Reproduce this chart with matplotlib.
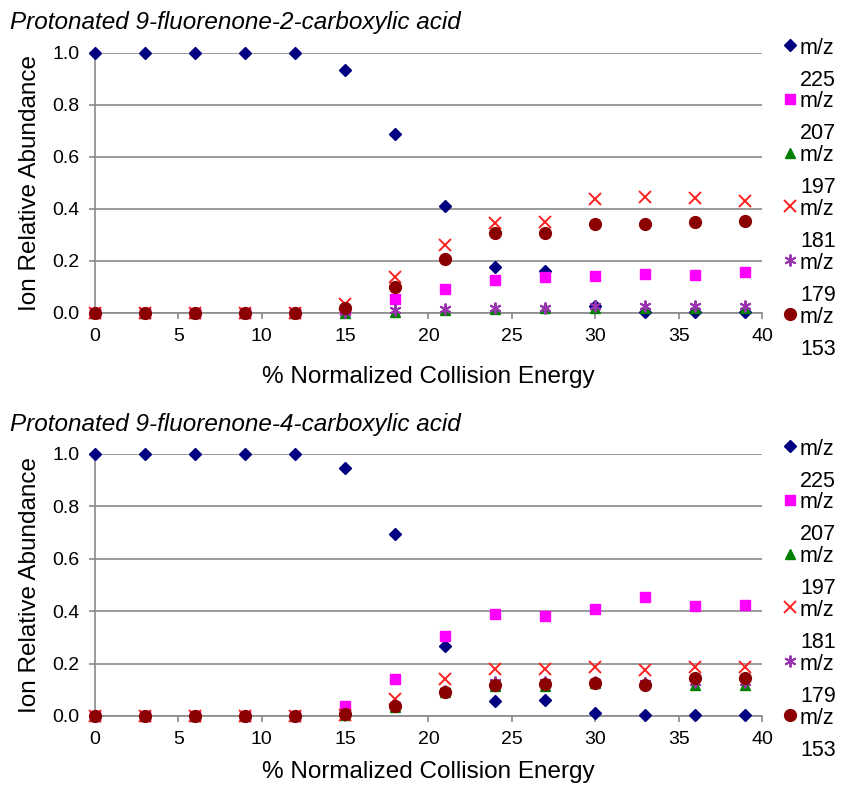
import matplotlib
matplotlib.use("Agg")
import matplotlib.pyplot as plt

plt.rcParams['font.family'] = ['Liberation Sans', 'DejaVu Sans']

energy = [0, 3, 6, 9, 12, 15, 18, 21, 24, 27, 30, 33, 36, 39]
ions = ["225", "207", "197", "181", "179", "153"]

# 9-fluorenone-2-carboxylic acid
top_225 = [1.0, 1.0, 1.0, 1.0, 1.0, 0.935, 0.69, 0.41, 0.177, 0.16, 0.025, 0.005, 0.005, 0.005]
top_207 = [0, 0, 0, 0, 0, 0.01, 0.054, 0.092, 0.127, 0.138, 0.142, 0.149, 0.148, 0.158]
top_197 = [0, 0, 0, 0, 0, 0.0, 0.005, 0.01, 0.015, 0.018, 0.02, 0.02, 0.02, 0.02]
top_181 = [0, 0, 0, 0, 0, 0.035, 0.14, 0.26, 0.345, 0.35, 0.437, 0.447, 0.443, 0.432]
top_179 = [0, 0, 0, 0, 0, 0.005, 0.01, 0.015, 0.02, 0.02, 0.025, 0.025, 0.025, 0.025]
top_153 = [0, 0, 0, 0, 0, 0.02, 0.10, 0.207, 0.307, 0.307, 0.342, 0.342, 0.35, 0.355]

# 9-fluorenone-4-carboxylic acid
bot_225 = [1.0, 1.0, 1.0, 1.0, 1.0, 0.945, 0.695, 0.268, 0.058, 0.06, 0.013, 0.004, 0.003, 0.003]
bot_207 = [0, 0, 0, 0, 0, 0.038, 0.14, 0.305, 0.388, 0.382, 0.41, 0.453, 0.421, 0.425]
bot_197 = [0, 0, 0, 0, 0, 0.004, 0.035, 0.09, 0.115, 0.115, 0.125, 0.13, 0.12, 0.12]
bot_181 = [0, 0, 0, 0, 0, 0.005, 0.065, 0.141, 0.18, 0.18, 0.188, 0.176, 0.186, 0.186]
bot_179 = [0, 0, 0, 0, 0, 0.006, 0.042, 0.095, 0.13, 0.13, 0.13, 0.125, 0.13, 0.13]
bot_153 = [0, 0, 0, 0, 0, 0.008, 0.038, 0.093, 0.118, 0.122, 0.127, 0.118, 0.144, 0.146]

styles = [
    dict(marker='D', color='#000080', ms=6.5, mec='#000080'),
    dict(marker='s', color='#FF00FF', ms=7.5, mec='#FF00FF'),
    dict(marker='^', color='#008000', ms=7.5, mec='#008000'),
    dict(marker='x', color='#FF2020', ms=8, mew=1.4),
    dict(marker=(6, 2, 0), color='#9933B0', ms=8.5, mew=1.4),
    dict(marker='o', color='#8B0000', ms=8.5, mec='#8B0000'),
]

fig = plt.figure(figsize=(8.43, 7.88), dpi=100)
ax_top = fig.add_axes([0.1127, 0.6028, 0.7912, 0.33])
ax_bot = fig.add_axes([0.1127, 0.0914, 0.7912, 0.3325])
# overlay in pixel units, for the hand-placed legends and titles
ov = fig.add_axes([0, 0, 1, 1], zorder=5)
ov.set_xlim(0, 843)
ov.set_ylim(788, 0)
ov.axis('off')

panels = [
    (ax_top, [top_225, top_207, top_197, top_181, top_179, top_153],
     "Protonated 9-fluorenone-2-carboxylic acid", 22, 45, 15),
    (ax_bot, [bot_225, bot_207, bot_197, bot_181, bot_179, bot_153],
     "Protonated 9-fluorenone-4-carboxylic acid", 424, 446, 9),
]

for ax, series, title, ty, ly, lpad in panels:
    for vals, st in zip(series, styles):
        ax.plot(energy, vals, linestyle='none', clip_on=False, zorder=3, **st)
    ax.set_xlim(0, 40)
    ax.set_ylim(0, 1.0)
    ax.set_xticks(range(0, 41, 5))
    ax.set_yticks([0, 0.2, 0.4, 0.6, 0.8, 1.0])
    ax.set_yticklabels(["0.0", "0.2", "0.4", "0.6", "0.8", "1.0"])
    ax.grid(axis='y', color='#8a8a8a', linewidth=1.2)
    ax.set_axisbelow(True)
    for s in ['top', 'right']:
        ax.spines[s].set_visible(False)
    for s in ['left', 'bottom']:
        ax.spines[s].set_color('#8a8a8a')
        ax.spines[s].set_linewidth(1.2)
    ax.tick_params(axis='both', colors='#8a8a8a', labelcolor='black', labelsize=14,
                   length=4, width=1.2)
    ax.tick_params(axis='x', pad=7)
    ax.tick_params(axis='y', pad=7)
    ax.set_xlabel("% Normalized Collision Energy", fontsize=17.5, labelpad=lpad)
    ax.set_ylabel("Ion Relative Abundance", fontsize=17.5, labelpad=8)
    ov.text(10, ty, title, fontsize=17.5, style='italic', va='center', ha='left')
    for i, (ion, st) in enumerate(zip(ions, styles)):
        y = ly + i * 53.8
        ov.plot([790], [y], linestyle='none', **st)
        ov.text(800, y + 3, "m/z", fontsize=15.5, va='center', ha='left')
        ov.text(800, y + 35, ion, fontsize=15.5, va='center', ha='left')

fig.savefig("out.png", dpi=100)
